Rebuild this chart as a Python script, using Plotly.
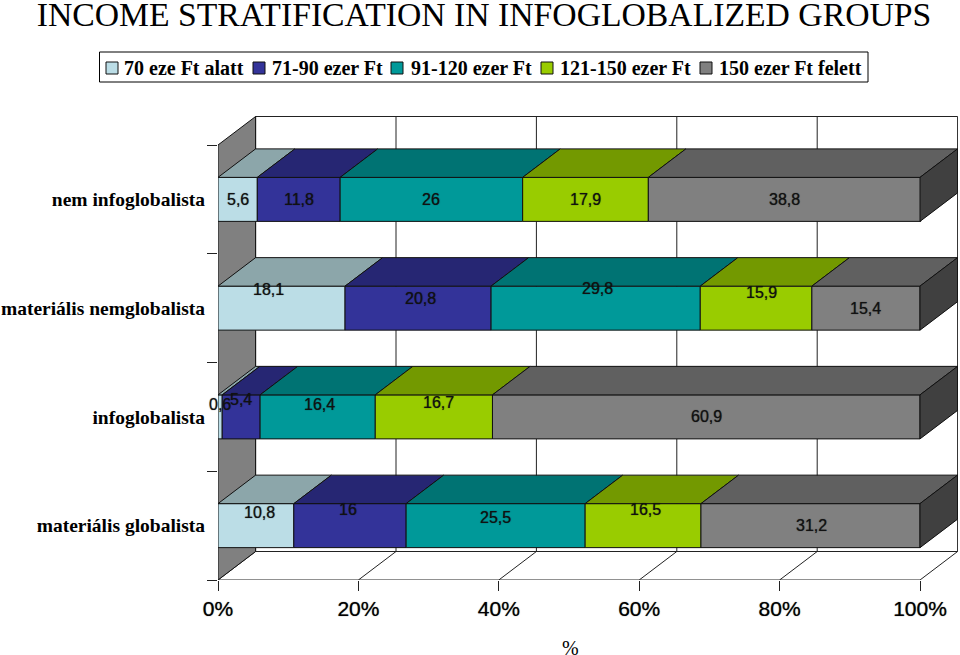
import plotly.graph_objects as go

TITLE = "INCOME STRATIFICATION IN INFOGLOBALIZED GROUPS"
categories = ["materiális globalista", "infoglobalista", "materiális nemglobalista", "nem infoglobalista"]
series_names = ["70 eze Ft alatt", "71-90 ezer Ft", "91-120 ezer Ft", "121-150 ezer Ft", "150 ezer Ft felett"]
under_70 = [10.8, 0.6, 18.1, 5.6]
from_71_90 = [16, 5.4, 20.8, 11.8]
from_91_120 = [25.5, 16.4, 29.8, 26]
from_121_150 = [16.5, 16.7, 15.9, 17.9]
over_150 = [31.2, 60.9, 15.4, 38.8]
series_values = [under_70, from_71_90, from_91_120, from_121_150, over_150]
label_texts = [["10,8", "0,6", "18,1", "5,6"], ["16", "5,4", "20,8", "11,8"], ["25,5", "16,4", "29,8", "26"],
               ["16,5", "16,7", "15,9", "17,9"], ["31,2", "60,9", "15,4", "38,8"]]
x_ticks = [0, 20, 40, 60, 80, 100]
x_tick_labels = ["0%", "20%", "40%", "60%", "80%", "100%"]

front_colors = ["#BBDDE6", "#333399", "#009999", "#99CC00", "#808080"]
top_colors = ["#8CA6AA", "#262673", "#007373", "#739900", "#606060"]
side_color = "#404040"
edge = "#111111"
heavier = "0 0 1px rgba(0,0,0,0.7)"

# pixel geometry of the plot box
L, R, T, B = 218.0, 958.0, 116.0, 580.0
PX_X = 7.02
PX_Y = 108.75
DX = 37.6 / PX_X
DY = 28.5 / PX_Y
BAR_W = 44 / PX_Y
W, H = 960, 655
n_rows = len(categories)
rows_y = [i + 0.5 for i in range(n_rows)]

# pixel nudges of data labels, series by row
label_dx = [[4, 0, -13, 0], [-2, 0, 2, 0], [0, 2, 2, 0], [2, 5, 5, 0], [1, 0, 0, 0]]
label_dy = [[-13, -12, -19, 0], [-16, -17, -10, 0], [-8, -12, -20, 0], [-16, -14, -16, 0], [0, 0, 0, 0]]

# hand-placed legend (swatch left edge, text left edge, in pixels)
legend_box = (99.5, 52, 868, 82)
legend_swatch_x = [106, 253, 391, 541, 700]
legend_text_x = [122, 270, 409, 558, 717]

fig = go.Figure()


def poly(xs, ys, color, z):
    fig.add_trace(go.Scatter(x=xs, y=ys, mode="lines", fill="toself", fillcolor=color,
                             line=dict(color=edge, width=1), showlegend=False, hoverinfo="skip", zorder=z))


def line(xs, ys, z=0):
    fig.add_trace(go.Scatter(x=xs, y=ys, mode="lines", line=dict(color="#222222", width=1),
                             showlegend=False, hoverinfo="skip", zorder=z))


top = n_rows
for t in x_ticks:
    line([t, t + DX, t + DX], [0, DY, top + DY], 0)
line([0, 100], [0, 0], 0)
line([DX, 100 + DX], [DY, DY], 0)
line([DX, 100 + DX], [top + DY, top + DY], 0)
poly([0, 0, DX, DX, 0], [0, top, top + DY, DY, 0], "#808080", 0)

cum = [0.0] * n_rows
for k, vals in enumerate(series_values):
    fig.add_trace(go.Bar(y=rows_y, x=vals, base=cum, width=BAR_W, orientation="h", name=series_names[k],
                         marker=dict(color=front_colors[k], line=dict(color=edge, width=1)),
                         hoverinfo="skip", zorder=1, showlegend=False))
    xs, ys = [], []
    for i in range(n_rows):
        x0, x1 = cum[i], min(cum[i] + vals[i], 100)
        y1 = rows_y[i] + BAR_W / 2
        xs += [x0, x1, x1 + DX, x0 + DX, x0, None]
        ys += [y1, y1, y1 + DY, y1 + DY, y1, None]
    poly(xs, ys, top_colors[k], 2)
    cum = [c + v for c, v in zip(cum, vals)]

xs, ys = [], []
for i in range(n_rows):
    y0, y1 = rows_y[i] - BAR_W / 2, rows_y[i] + BAR_W / 2
    xs += [100, 100 + DX, 100 + DX, 100, 100, None]
    ys += [y0, y0 + DY, y1 + DY, y1, y0, None]
poly(xs, ys, side_color, 2)

annotations = []
cum = [0.0] * n_rows
for k, vals in enumerate(series_values):
    for i in range(n_rows):
        annotations.append(dict(x=cum[i] + vals[i] / 2, y=rows_y[i], xref="x", yref="y", text=label_texts[k][i],
                                showarrow=False, xshift=label_dx[k][i], yshift=-label_dy[k][i],
                                font=dict(family="Liberation Sans", size=16, color="#111111", shadow=heavier)))
    cum = [c + v for c, v in zip(cum, vals)]
annotations.append(dict(x=570 / W, y=1 - 648 / H, xref="paper", yref="paper", text="%", showarrow=False,
                        xanchor="center", yanchor="middle",
                        font=dict(family="Liberation Serif", size=20, color="black")))

shapes = [dict(type="rect", xref="paper", yref="paper", x0=legend_box[0] / W, x1=legend_box[2] / W,
               y0=1 - legend_box[3] / H, y1=1 - legend_box[1] / H, line=dict(color="black", width=1),
               fillcolor="white")]
for k, name in enumerate(series_names):
    sx = legend_swatch_x[k]
    shapes.append(dict(type="rect", xref="paper", yref="paper", x0=sx / W, x1=(sx + 12) / W,
                       y0=1 - 74 / H, y1=1 - 62 / H, line=dict(color=edge, width=1), fillcolor=front_colors[k]))
    annotations.append(dict(x=legend_text_x[k] / W, y=1 - 68 / H, xref="paper", yref="paper", text=name,
                            xanchor="left", yanchor="middle", showarrow=False,
                            font=dict(family="Liberation Serif", size=20, color="black", weight="bold")))

fig.update_layout(
    width=W, height=H, margin=dict(l=0, r=0, t=0, b=0), paper_bgcolor="white", plot_bgcolor="white",
    barmode="overlay", annotations=annotations, shapes=shapes, showlegend=False,
    title=dict(text=TITLE, x=484 / W, xanchor="center", y=1 - 14 / H, yanchor="middle",
               font=dict(family="Liberation Serif", size=33.7, color="black")),
    xaxis=dict(domain=[L / W, R / W], range=[0, (R - L) / PX_X], tickvals=x_ticks, ticktext=x_tick_labels,
               ticks="outside", ticklen=10, tickcolor="#222222", showgrid=False, zeroline=False, showline=False,
               automargin=False, tickfont=dict(family="Liberation Sans", size=21, color="black", shadow=heavier)),
    yaxis=dict(domain=[1 - B / H, 1 - T / H], range=[0, (B - T) / PX_Y], tickvals=rows_y, ticktext=categories,
               ticks="outside", ticklen=8, tickcolor="rgba(0,0,0,0)", showgrid=False, zeroline=False, showline=False,
               automargin=False,
               minor=dict(tickvals=list(range(n_rows + 1)), ticks="outside", ticklen=10, tickcolor="#222222"),
               tickfont=dict(family="Liberation Serif", size=19.5, color="black", weight="bold")),
)
fig.write_html("out.html", config={"displayModeBar": False},
               post_script="document.body.style.margin='0';document.documentElement.style.overflow='hidden';")
